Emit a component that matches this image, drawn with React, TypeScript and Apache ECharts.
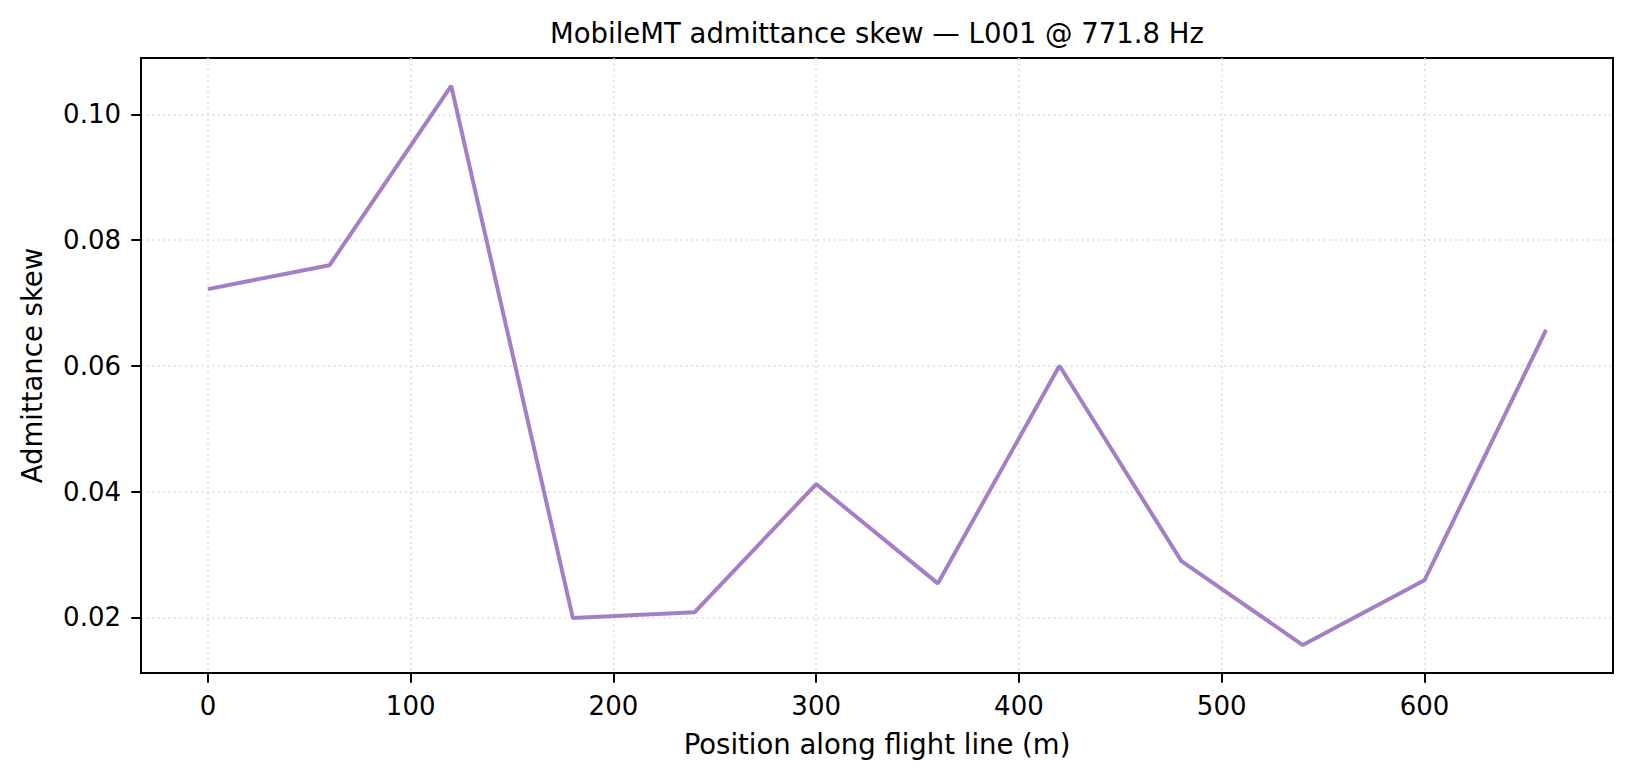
import React, { useEffect, useRef } from "react";
import * as echarts from "echarts";

// flight-line stations (m) and the measured skew at each
const positions = [0, 60, 120, 180, 240, 300, 360, 420, 480, 540, 600, 660];
const skew = [0.0722, 0.076, 0.1045, 0.0199, 0.0208, 0.0412, 0.0254, 0.06, 0.029, 0.0156, 0.0259, 0.0657];

const xTicks = [0, 100, 200, 300, 400, 500, 600];
const yTicks = [0.02, 0.04, 0.06, 0.08, 0.1];

const FONT = "DejaVu Sans";

const App: React.FC = () => {
  const chartRef = useRef<HTMLDivElement>(null);

  useEffect(() => {
    const chart = echarts.init(chartRef.current!, undefined, { renderer: "svg" });

    // matplotlib-like 5% margins around the data
    const xSpan = positions[positions.length - 1] - positions[0];
    const yMin = Math.min(...skew);
    const yMax = Math.max(...skew);
    const ySpan = yMax - yMin;

    const gridLine = { show: true, lineStyle: { color: "#dcdcdc", width: 1.6, type: [2, 3.5] } };

    chart.setOption({
      animation: false,
      backgroundColor: "#ffffff",
      textStyle: { fontFamily: FONT },
      graphic: [
        {
          type: "text",
          x: 877,
          y: 19,
          style: {
            text: "MobileMT admittance skew — L001 @ 771.8 Hz",
            font: `27.5px "${FONT}"`,
            fill: "#000",
            align: "center",
            verticalAlign: "top",
          },
        },
      ],
      grid: {
        left: 141,
        top: 58,
        right: 20,
        bottom: 108,
        show: true,
        borderColor: "#000",
        borderWidth: 2,
      },
      xAxis: {
        type: "value",
        min: positions[0] - xSpan * 0.05,
        max: positions[positions.length - 1] + xSpan * 0.05,
        name: "Position along flight line (m)",
        nameLocation: "middle",
        nameGap: 57,
        nameTextStyle: { fontSize: 27.5, color: "#000", fontFamily: FONT, lineHeight: 27.5 },
        axisLine: { onZero: false, lineStyle: { color: "#000", width: 2 } },
        axisTick: { show: true, length: 9.7, customValues: xTicks, lineStyle: { color: "#000", width: 2 } },
        axisLabel: {
          customValues: xTicks,
          margin: 20,
          fontSize: 26,
          lineHeight: 26,
          color: "#000",
          fontFamily: FONT,
          formatter: (v: number) => String(Math.round(v)),
        },
        splitLine: gridLine,
      },
      yAxis: {
        type: "value",
        min: yMin - ySpan * 0.05,
        max: yMax + ySpan * 0.05,
        name: "Admittance skew",
        nameLocation: "middle",
        nameGap: 95,
        nameTextStyle: { fontSize: 27.5, color: "#000", fontFamily: FONT, lineHeight: 27.5 },
        axisLine: { show: true, onZero: false, lineStyle: { color: "#000", width: 2 } },
        axisTick: { show: true, length: 9.7, customValues: yTicks, lineStyle: { color: "#000", width: 2 } },
        axisLabel: {
          customValues: yTicks,
          margin: 20,
          fontSize: 26,
          color: "#000",
          fontFamily: FONT,
          formatter: (v: number) => v.toFixed(2),
        },
        splitLine: gridLine,
      },
      series: [
        {
          type: "line",
          data: positions.map((x, i) => [x, skew[i]]),
          symbol: "none",
          lineStyle: { color: "#a47fc8", width: 4 },
          z: 3,
        },
      ],
    });

    return () => {
      chart.dispose();
    };
  }, []);

  return (
    <div
      ref={chartRef}
      style={{ position: "fixed", left: 0, top: 0, width: 1633, height: 781, background: "#fff" }}
    />
  );
};

export default App;
